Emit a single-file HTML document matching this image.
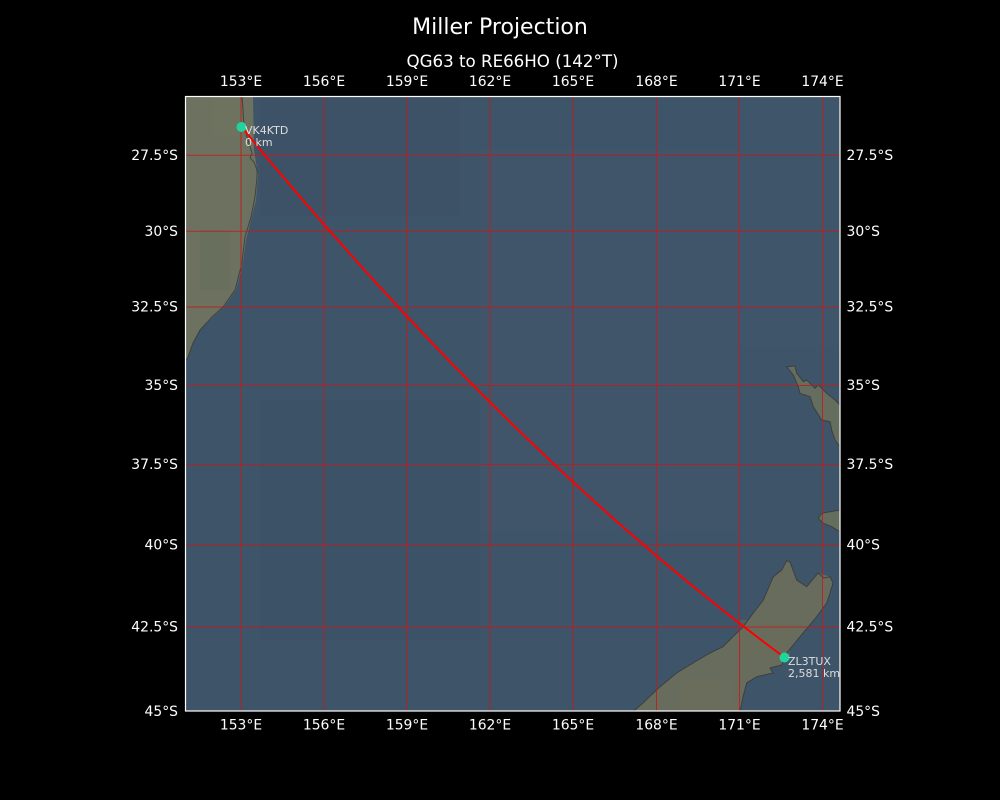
<!DOCTYPE html>
<html>
<head>
<meta charset="utf-8">
<style>
  html,body{margin:0;padding:0;background:#000;}
  svg{display:block;}
  text{font-family:"DejaVu Sans","Liberation Sans",sans-serif;fill:#fff;}
</style>
</head>
<body>
<svg width="1000" height="800" viewBox="0 0 1000 800" xmlns="http://www.w3.org/2000/svg">
  <rect x="0" y="0" width="1000" height="800" fill="#000"/>

  <!-- Titles -->
  <text x="500" y="34" font-size="22" text-anchor="middle">Miller Projection</text>
  <text x="512.5" y="67" font-size="16.67" text-anchor="middle">QG63 to RE66HO (142°T)</text>

  <defs>
    <clipPath id="ax"><rect x="185" y="96" width="655" height="615"/></clipPath>
  </defs>

  <g clip-path="url(#ax)">
    <!-- ocean -->
    <rect x="185" y="96" width="655" height="615" fill="#3e5468"/>
    <!-- subtle variations -->
    <rect x="480" y="150" width="260" height="380" fill="#44596d" opacity="0.35"/>
    <rect x="260" y="400" width="220" height="240" fill="#3a5064" opacity="0.35"/>
    <rect x="260" y="96" width="200" height="120" fill="#3b5166" opacity="0.3"/>
    <rect x="740" y="96" width="100" height="250" fill="#42596c" opacity="0.3"/>

    <!-- Australia land -->
    <polygon fill="#6c725f" points="185,96 253,96 254,150 258,175 256,200 251,220 246,240 243,263 236,290 224,307 212,318 200,330 193,343 188,357 185,362"/>
    <rect x="200" y="230" width="30" height="60" fill="#646b58" opacity="0.4"/>
    <rect x="214" y="96" width="28" height="40" fill="#737661" opacity="0.4"/>
    <!-- Australia coast -->
    <polyline fill="none" stroke="#3a3a3a" stroke-opacity="0.85" stroke-width="1" points="242,96 243,110 244,127 248,140 252,153 250,158 254,162 257,170 257,177 255,197 251,217 245,237 242,263 235,290 223,307 212,317 200,330 193,343 188,357 185,362"/>

    <!-- North Island land -->
    <polygon fill="#646d5e" points="786.7,366.7 795,366 796.7,373.3 803.3,381.7 806.7,380 815,388.3 818.3,385 826.7,393.3 835,400 840,405 840,446.7 835,440 831.7,430 830,421.7 821.7,420 813.3,406.7 810,396.7 800,393.3 798.3,386.7 793.3,375"/>
    <polyline fill="none" stroke="#3a3a3a" stroke-opacity="0.85" stroke-width="1" points="840,405 835,400 826.7,393.3 818.3,385 815,388.3 806.7,380 803.3,381.7 796.7,373.3 795,366 786.7,366.7 793.3,375 798.3,386.7 800,393.3 810,396.7 813.3,406.7 821.7,420 830,421.7 831.7,430 835,440 840,446.7"/>
    <polygon fill="#646d5e" points="840,510 821.7,513.3 818.3,518.3 823.3,523.3 831.7,526.7 840,531.7"/>
    <polyline fill="none" stroke="#3a3a3a" stroke-opacity="0.85" stroke-width="1" points="840,510 821.7,513.3 818.3,518.3 823.3,523.3 831.7,526.7 840,531.7"/>

    <!-- South Island land -->
    <polygon fill="#676c5c" points="786.7,560.7 781.7,570 773.3,576.7 763.3,600 753.3,613 743.3,626.7 733,636.7 723,646.7 710,653 693,663 676.7,673 660,686.7 643,703 633,711.7 740,711.7 743,696.7 746.7,683 756.7,676.7 773,673 770,668 781.7,665 786.7,653 800,636.7 816.7,616.7 826.7,603 830,593 833,583 830,576.7 818,573 806.7,586.7 796.7,580 790,562"/>
    <rect x="740" y="620" width="50" height="40" fill="#6e6f5a" opacity="0.4"/>
    <rect x="680" y="680" width="50" height="31" fill="#707059" opacity="0.4"/>
    <polyline fill="none" stroke="#3a3a3a" stroke-opacity="0.85" stroke-width="1" points="633,711.7 643,703 660,686.7 676.7,673 693,663 710,653 723,646.7 733,636.7 743.3,626.7 753.3,613 763.3,600 773.3,576.7 781.7,570 786.7,560.7 790,562 796.7,580 806.7,586.7 818,573 824,578 830,576.7 833,583 830,593 826.7,603 816.7,616.7 800,636.7 786.7,653 781.7,665 770,668 773,673 756.7,676.7 746.7,683 743,696.7 740,711.7"/>

    <!-- gridlines -->
    <g stroke="#c41a1a" stroke-width="1" opacity="0.85">
      <line x1="241" y1="96" x2="241" y2="711"/>
      <line x1="324" y1="96" x2="324" y2="711"/>
      <line x1="407" y1="96" x2="407" y2="711"/>
      <line x1="490" y1="96" x2="490" y2="711"/>
      <line x1="573" y1="96" x2="573" y2="711"/>
      <line x1="656.5" y1="96" x2="656.5" y2="711"/>
      <line x1="739.5" y1="96" x2="739.5" y2="711"/>
      <line x1="822.5" y1="96" x2="822.5" y2="711"/>
      <line x1="185" y1="155.3" x2="840" y2="155.3"/>
      <line x1="185" y1="231.3" x2="840" y2="231.3"/>
      <line x1="185" y1="307" x2="840" y2="307"/>
      <line x1="185" y1="385.5" x2="840" y2="385.5"/>
      <line x1="185" y1="464.5" x2="840" y2="464.5"/>
      <line x1="185" y1="545" x2="840" y2="545"/>
      <line x1="185" y1="627" x2="840" y2="627"/>
    </g>

    <!-- great circle path -->
    <path d="M241.5,127 Q513,457.6 784,657" fill="none" stroke="#ff0000" stroke-width="2"/>

    <!-- markers -->
    <circle cx="241.5" cy="127" r="5" fill="#1fd49e"/>
    <circle cx="784.5" cy="657.5" r="5" fill="#1fd49e"/>

    <g font-size="11">
      <text x="245" y="134" style="fill:#dddddd">VK4KTD</text>
      <text x="245" y="146" style="fill:#dddddd">0 km</text>
      <text x="788" y="665" style="fill:#dddddd">ZL3TUX</text>
      <text x="788" y="677" style="fill:#dddddd">2,581 km</text>
    </g>
  </g>

  <!-- axes frame -->
  <rect x="185.5" y="96.5" width="654.5" height="614.5" fill="none" stroke="#fff" stroke-width="1.2"/>

  <!-- top tick labels -->
  <g font-size="13.9" text-anchor="middle">
    <text x="241" y="86">153°E</text>
    <text x="324" y="86">156°E</text>
    <text x="407" y="86">159°E</text>
    <text x="490" y="86">162°E</text>
    <text x="573" y="86">165°E</text>
    <text x="656.5" y="86">168°E</text>
    <text x="739.5" y="86">171°E</text>
    <text x="822.5" y="86">174°E</text>
  </g>
  <!-- bottom tick labels -->
  <g font-size="13.9" text-anchor="middle">
    <text x="241" y="729.5">153°E</text>
    <text x="324" y="729.5">156°E</text>
    <text x="407" y="729.5">159°E</text>
    <text x="490" y="729.5">162°E</text>
    <text x="573" y="729.5">165°E</text>
    <text x="656.5" y="729.5">168°E</text>
    <text x="739.5" y="729.5">171°E</text>
    <text x="822.5" y="729.5">174°E</text>
  </g>
  <!-- left tick labels -->
  <g font-size="13.9" text-anchor="end">
    <text x="178" y="160">27.5°S</text>
    <text x="178" y="236">30°S</text>
    <text x="178" y="311.5">32.5°S</text>
    <text x="178" y="390">35°S</text>
    <text x="178" y="469">37.5°S</text>
    <text x="178" y="549.5">40°S</text>
    <text x="178" y="631.5">42.5°S</text>
    <text x="178" y="716">45°S</text>
  </g>
  <!-- right tick labels -->
  <g font-size="13.9" text-anchor="start">
    <text x="846.5" y="160">27.5°S</text>
    <text x="846.5" y="236">30°S</text>
    <text x="846.5" y="311.5">32.5°S</text>
    <text x="846.5" y="390">35°S</text>
    <text x="846.5" y="469">37.5°S</text>
    <text x="846.5" y="549.5">40°S</text>
    <text x="846.5" y="631.5">42.5°S</text>
    <text x="846.5" y="716">45°S</text>
  </g>
</svg>
</body>
</html>
